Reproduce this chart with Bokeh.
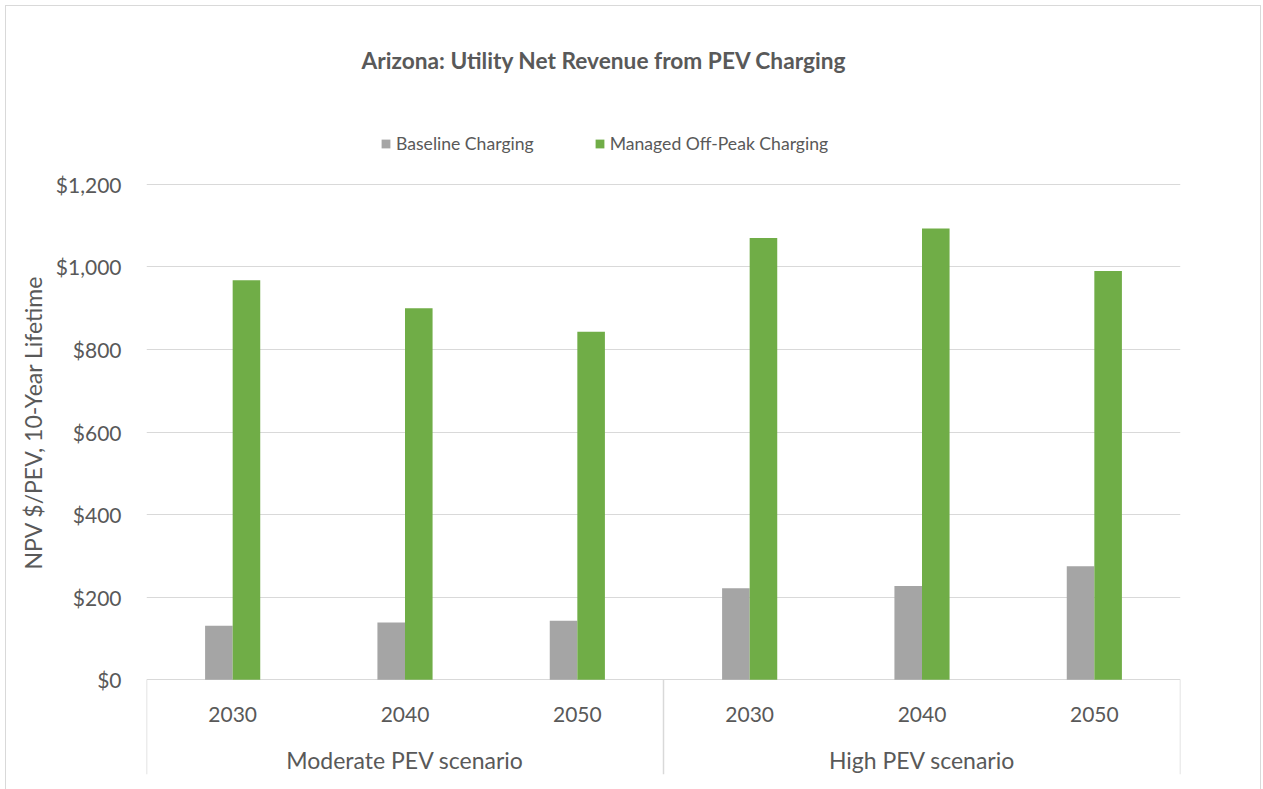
from bokeh.plotting import figure
from bokeh.models import (FactorRange, Range1d, FixedTicker, NumeralTickFormatter,
                          ColumnDataSource, Legend, LegendItem, Title)
from bokeh.transform import dodge
from bokeh.core.properties import value
from bokeh.embed import file_html
from bokeh.resources import INLINE

# ---- data ----
groups = ["Moderate PEV scenario", "High PEV scenario"]
years = ["2030", "2040", "2050"]
baseline = [131, 139, 143, 222, 227, 275]
managed = [968, 900, 843, 1070, 1093, 990]
y_ticks = [0, 200, 400, 600, 800, 1000, 1200]
series_names = ["Baseline Charging", "Managed Off-Peak Charging"]
chart_title = "Arizona: Utility Net Revenue from PEV Charging"
y_title = "NPV $/PEV, 10-Year Lifetime"

GREY = "#A5A5A5"
GREEN = "#70AD47"
TXT = "#595959"
LINE = "#D9D9D9"
FONT = "Lato"

factors = [(g, y) for g in groups for y in years]
src = ColumnDataSource(dict(x=factors, base=baseline, man=managed))

x_range = FactorRange(*factors, factor_padding=0, group_padding=0, range_padding=0)
y_bottom = -229.3
y_top = 1376.5
p = figure(width=1256, height=784, x_range=x_range, y_range=Range1d(y_bottom, y_top),
           output_backend="svg", toolbar_location=None, x_axis_location=None, title=None,
           min_border_left=140, min_border_right=82, min_border_top=105, min_border_bottom=16,
           styles={"margin-left": "5px", "margin-top": "5px",
                   "border-left": "1px solid #D9D9D9", "border-top": "1px solid #D9D9D9",
                   "border-right": "1px solid #D9D9D9"})
p.outline_line_color = None
p.background_fill_color = "white"
p.border_fill_color = "white"

# y axis
ax = p.yaxis[0]
ax.ticker = FixedTicker(ticks=y_ticks)
ax.formatter = NumeralTickFormatter(format="$0,0")
ax.axis_line_color = None
ax.major_tick_line_color = None
ax.major_tick_out = 0
ax.major_tick_in = 0
ax.minor_tick_line_color = None
ax.minor_tick_out = 0
ax.major_label_standoff = 25
ax.major_label_text_font = FONT
ax.major_label_text_font_size = "21px"
ax.major_label_text_color = TXT

p.xgrid.grid_line_color = None
p.ygrid.grid_line_color = LINE
p.ygrid.grid_line_width = 1.2

# bars
bw = 0.16
r1 = p.vbar(x=dodge("x", -bw / 2, range=p.x_range), top="base", width=bw, source=src,
            fill_color=GREY, line_color=None)
r2 = p.vbar(x=dodge("x", bw / 2, range=p.x_range), top="man", width=bw, source=src,
            fill_color=GREEN, line_color=None)

# category axis (Excel style)
n = len(years)
bounds = [i * n for i in range(len(groups) + 1)]
p.segment(x0=bounds, y0=[0] * len(bounds), x1=bounds, y1=[y_bottom] * len(bounds),
          line_color=LINE, line_width=1.5)
p.text(x=factors, y=[-84] * len(factors), text=[f[1] for f in factors],
       text_align="center", text_baseline="middle", text_font=value(FONT),
       text_font_size="21px", text_color=TXT)
p.text(x=groups, y=[-195] * len(groups), text=groups,
       text_align="center", text_baseline="middle", text_font=value(FONT),
       text_font_size="23px", text_color=TXT)

# legend
legend = Legend(items=[LegendItem(label=series_names[0], renderers=[r1]),
                       LegendItem(label=series_names[1], renderers=[r2])],
                location=(234, 620), orientation="horizontal",
                glyph_width=11, glyph_height=11, label_standoff=5, spacing=60,
                padding=0, margin=0, border_line_color=None, background_fill_alpha=0,
                label_text_font=FONT, label_text_font_size="17.6px", label_text_color=TXT)
p.add_layout(legend, "center")

# chart title
t = Title(text=chart_title, align="left", offset=215, standoff=76,
          text_font=FONT, text_font_size="22.7px", text_font_style="bold", text_color=TXT)
p.add_layout(t, "above")

# y axis title
yt = Title(text=y_title, align="left", offset=205, standoff=12,
           text_font=FONT, text_font_size="23px", text_font_style="normal", text_color=TXT)
p.add_layout(yt, "left")

open("out.html", "w").write(file_html(p, INLINE))
